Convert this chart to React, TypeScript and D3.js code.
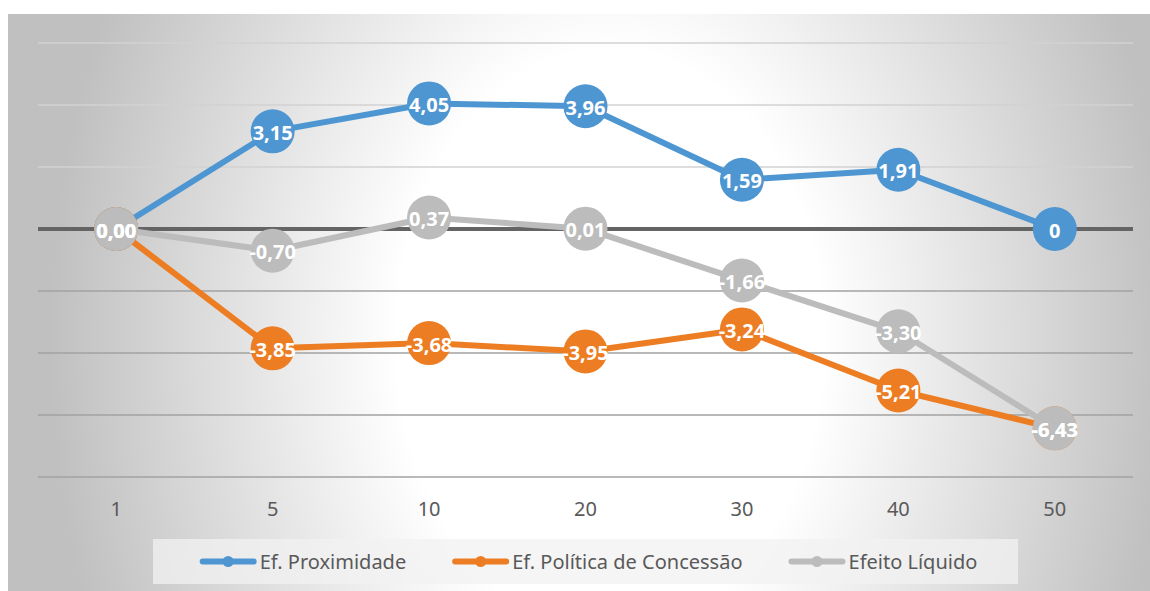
import React, { useEffect, useRef } from 'react'
import * as d3 from 'd3'

const width = 1150
const height = 591
const frame = { x: 8, y: 14 }
const margin = { top: 43, right: 17, bottom: 114, left: 38 }

const categories = ['1', '5', '10', '20', '30', '40', '50']
const proximidade = [0, 3.15, 4.05, 3.96, 1.59, 1.91, 0]
const politica = [0, -3.85, -3.68, -3.95, -3.24, -5.21, -6.43]
const liquido = [0, -0.7, 0.37, 0.01, -1.66, -3.3, -6.43]
const proximidadeLabels = ['0,00', '3,15', '4,05', '3,96', '1,59', '1,91', '0']
const politicaLabels = ['0,00', '-3,85', '-3,68', '-3,95', '-3,24', '-5,21', '-6,43']
const liquidoLabels = ['0,00', '-0,70', '0,37', '0,01', '-1,66', '-3,30', '-6,43']
const yTicks = [-8, -6, -4, -2, 0, 2, 4, 6]

const series = [
  { name: 'Ef. Proximidade', values: proximidade, labels: proximidadeLabels, color: '#4e96d1' },
  { name: 'Ef. Política de Concessão', values: politica, labels: politicaLabels, color: '#ed7d22' },
  { name: 'Efeito Líquido', values: liquido, labels: liquidoLabels, color: '#bcbcbc' },
]

const font = '"Noto Sans", sans-serif'

const App = () => {
  const svgRef = useRef<SVGSVGElement>(null)

  useEffect(() => {
    document.body.style.margin = '0'
    const svg = d3.select(svgRef.current)
    svg.selectAll('*').remove()

    // soft radial background, white in the middle, grey at the edges
    const defs = svg.append('defs')
    const grad = defs.append('radialGradient')
      .attr('id', 'bg')
      .attr('gradientUnits', 'userSpaceOnUse')
      .attr('cx', 0).attr('cy', 0).attr('r', 1)
      .attr('gradientTransform', 'translate(610,340) scale(560,760)')
    grad.append('stop').attr('offset', 0).attr('stop-color', '#ffffff')
    grad.append('stop').attr('offset', 0.38).attr('stop-color', '#ffffff')
    grad.append('stop').attr('offset', 1).attr('stop-color', '#c0c0c0')

    svg.append('rect')
      .attr('x', frame.x).attr('y', frame.y)
      .attr('width', width - frame.x).attr('height', height - frame.y)
      .attr('fill', 'url(#bg)')

    const x = d3.scaleBand<string>()
      .domain(categories)
      .range([margin.left, width - margin.right])
    const y = d3.scaleLinear()
      .domain([-8, 6])
      .range([height - margin.bottom, margin.top])
    const cx = (c: string) => (x(c) as number) + x.bandwidth() / 2

    // gridlines
    svg.append('g')
      .selectAll('line')
      .data(yTicks.filter(t => t !== 0))
      .join('line')
      .attr('x1', margin.left).attr('x2', width - margin.right)
      .attr('y1', d => y(d)).attr('y2', d => y(d))
      .attr('stroke', d => (d > 0 ? '#d2d2d2' : '#a2a2a2'))
      .attr('stroke-width', 1.5)

    svg.append('line')
      .attr('x1', margin.left).attr('x2', width - margin.right)
      .attr('y1', y(0)).attr('y2', y(0))
      .attr('stroke', '#646464')
      .attr('stroke-width', 4)

    // category labels
    svg.append('g')
      .selectAll('text')
      .data(categories)
      .join('text')
      .attr('x', d => cx(d))
      .attr('y', height - margin.bottom + 31)
      .attr('text-anchor', 'middle')
      .attr('dominant-baseline', 'central')
      .attr('font-family', font)
      .attr('font-size', 20)
      .attr('fill', '#595959')
      .text(d => d)

    const line = d3.line<number>()
      .x((_, i) => cx(categories[i]))
      .y(d => y(d))

    series.forEach(s => {
      const g = svg.append('g')
      g.append('path')
        .attr('d', line(s.values))
        .attr('fill', 'none')
        .attr('stroke', s.color)
        .attr('stroke-width', 6)
        .attr('stroke-linejoin', 'round')
      g.selectAll('circle')
        .data(s.values)
        .join('circle')
        .attr('cx', (_, i) => cx(categories[i]))
        .attr('cy', d => y(d))
        .attr('r', 22)
        .attr('fill', s.color)
    })

    series.forEach(s => {
      svg.append('g')
        .selectAll('text')
        .data(s.values)
        .join('text')
        .attr('x', (_, i) => cx(categories[i]))
        .attr('y', d => y(d) + 1)
        .attr('text-anchor', 'middle')
        .attr('dominant-baseline', 'central')
        .attr('font-family', font)
        .attr('font-weight', 'bold')
        .attr('font-size', 20)
        .attr('fill', '#ffffff')
        .text((_, i) => s.labels[i])
    })

    // legend
    const legendBox = { x: 153, y: 539, w: 865, h: 45 }
    svg.append('rect')
      .attr('x', legendBox.x).attr('y', legendBox.y)
      .attr('width', legendBox.w).attr('height', legendBox.h)
      .attr('fill', '#f2f2f2')
      .attr('fill-opacity', 0.75)

    const legend = svg.append('g')
    const symW = 57
    const gap = 46
    let pos = 0
    const ly = legendBox.y + legendBox.h / 2
    series.forEach(s => {
      const item = legend.append('g').attr('transform', `translate(${pos},0)`)
      item.append('line')
        .attr('x1', 3).attr('x2', symW - 3)
        .attr('y1', ly).attr('y2', ly)
        .attr('stroke', s.color)
        .attr('stroke-width', 6)
        .attr('stroke-linecap', 'round')
      item.append('circle')
        .attr('cx', symW / 2).attr('cy', ly).attr('r', 5.5)
        .attr('fill', s.color)
      const t = item.append('text')
        .attr('x', symW + 3)
        .attr('y', ly)
        .attr('dominant-baseline', 'central')
        .attr('font-family', font)
        .attr('font-size', 20)
        .attr('fill', '#595959')
        .text(s.name)
      const w = (t.node() as SVGTextElement).getComputedTextLength()
      pos += symW + 3 + w + gap
    })
    const total = pos - gap
    legend.attr('transform', `translate(${legendBox.x + legendBox.w / 2 - total / 2 + 3},0)`)
  }, [])

  return <svg ref={svgRef} width={width} height={height} style={{ display: 'block' }} />
}

export default App
